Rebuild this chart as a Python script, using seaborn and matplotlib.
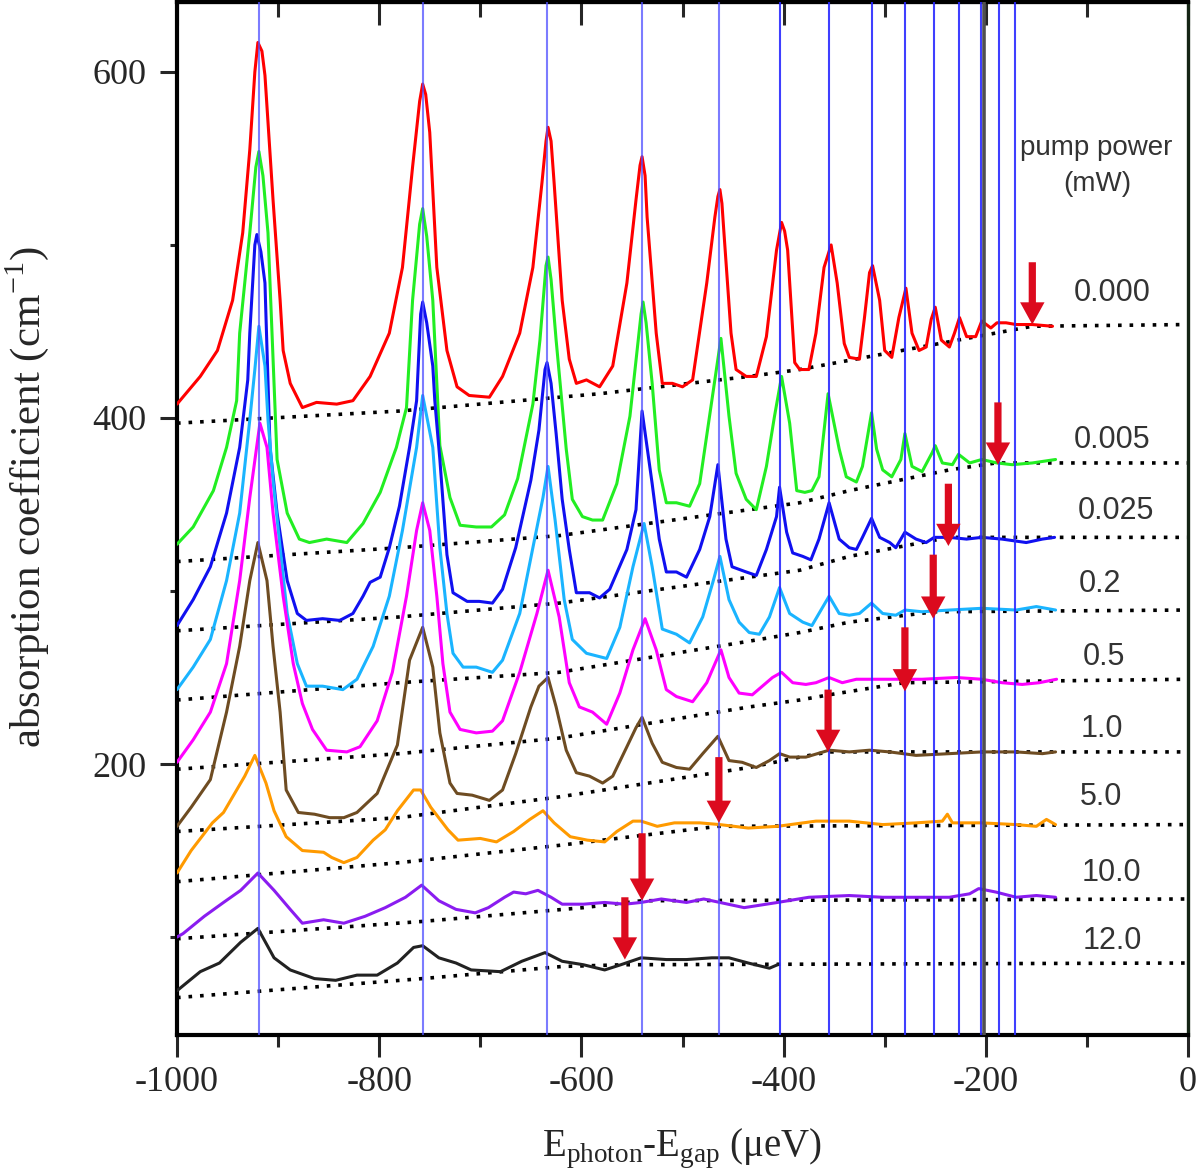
import numpy as np
import pandas as pd
import matplotlib
matplotlib.use('Agg')
import matplotlib.pyplot as plt
import seaborn as sns
from matplotlib.ticker import MultipleLocator, FixedLocator, NullFormatter

# exciton line positions (blue verticals), ueV
peak_lines = [-919, -757, -634, -540, -464, -404, -355, -313, -280, -251, -227, -205, -187, -171]
gap_line = -202

power_labels = ['0.000', '0.005', '0.025', '0.2', '0.5', '1.0', '5.0', '10.0', '12.0']
colors = ['#ff0000', '#22ee22', '#1010f0', '#1ab4ff', '#ff00ff', '#6e4c22', '#ff9a00', '#8a1cf0', '#222222']

# spectra (x in ueV, y in cm^-1)
red = [(-1000,408),(-977,424),(-960,439),(-945,468),(-935,507),(-928,555),(-923,600),(-920,617),(-916,612),(-913,598),(-905,526),(-898,468),(-895,439),(-888,420),(-876,406),(-862,409),(-842,408),(-826,410),(-809,424),(-790,449),(-777,487),(-767,545),(-760,583),(-757,593),(-754,587),(-750,565),(-743,487),(-733,439),(-723,418),(-711,413),(-691,412),(-678,424),(-661,449),(-648,487),(-639,536),(-635,560),(-633,568),(-630,560),(-627,536),(-619,468),(-612,434),(-605,420),(-595,422),(-582,418),(-569,430),(-555,478),(-546,526),(-542,546),(-540,551),(-537,540),(-535,516),(-526,449),(-520,420),(-510,420),(-500,418),(-490,422),(-476,478),(-468,516),(-465,528),(-463,532),(-461,524),(-459,507),(-452,449),(-447,428),(-437,424),(-427,424),(-417,447),(-407,497),(-402,513),(-399,508),(-396,497),(-389,432),(-384,428),(-375,428),(-368,449),(-360,487),(-353,500),(-347,478),(-340,443),(-335,435),(-325,434),(-320,458),(-315,484),(-312,488),(-305,468),(-300,439),(-293,435),(-286,458),(-279,475),(-273,449),(-266,439),(-259,441),(-254,457),(-250,464),(-244,445),(-236,441),(-231,449),(-226,458),(-219,447),(-210,447),(-204,456),(-195,452),(-189,455),(-180,455),(-170,454),(-154,454),(-134,453)]
green = [(-1000,327),(-984,337),(-964,358),(-951,383),(-941,410),(-938,449),(-928,507),(-922,545),(-919,554),(-915,540),(-910,507),(-901,376),(-891,345),(-879,330),(-869,328),(-852,330),(-832,328),(-816,339),(-799,357),(-783,383),(-773,406),(-767,468),(-760,512),(-757,521),(-753,505),(-747,468),(-740,384),(-730,354),(-720,338),(-704,337),(-689,337),(-676,344),(-663,365),(-648,408),(-641,445),(-635,488),(-633,493),(-630,480),(-625,445),(-615,382),(-609,353),(-599,343),(-589,341),(-579,341),(-565,362),(-552,401),(-541,460),(-539,467),(-536,455),(-530,420),(-523,370),(-516,351),(-506,351),(-493,349),(-483,362),(-471,410),(-462,446),(-454,401),(-447,368),(-437,353),(-427,347),(-417,372),(-409,401),(-402,424),(-394,397),(-387,358),(-379,357),(-372,358),(-365,366),(-356,414),(-345,382),(-338,366),(-328,363),(-322,372),(-313,403),(-308,382),(-302,370),(-293,366),(-284,376),(-280,391),(-273,372),(-263,369),(-253,380),(-250,384),(-243,374),(-233,373),(-227,379),(-216,374),(-204,376),(-189,374),(-174,373),(-154,374),(-131,376)]
blue = [(-1000,280),(-984,295),(-967,314),(-951,345),(-938,383),(-930,422),(-928,449),(-923,500),(-921,506),(-917,496),(-913,478),(-908,383),(-901,345),(-891,306),(-881,287),(-872,283),(-856,284),(-839,283),(-826,287),(-816,297),(-809,305),(-799,308),(-790,325),(-780,349),(-770,383),(-763,410),(-759,460),(-757,467),(-753,455),(-747,430),(-745,410),(-740,376),(-733,321),(-727,299),(-713,294),(-701,294),(-688,293),(-678,301),(-665,325),(-650,364),(-642,393),(-636,428),(-634,432),(-630,420),(-625,391),(-619,353),(-612,324),(-605,299),(-592,299),(-582,296),(-572,301),(-555,324),(-546,347),(-540,404),(-530,362),(-523,330),(-516,311),(-506,311),(-496,308),(-483,324),(-473,343),(-465,373),(-457,330),(-451,314),(-437,311),(-427,309),(-417,324),(-407,343),(-404,360),(-397,334),(-391,322),(-381,320),(-373,318),(-365,330),(-355,351),(-345,330),(-335,325),(-328,324),(-322,331),(-313,342),(-305,331),(-295,328),(-289,325),(-280,334),(-269,330),(-259,328),(-251,331),(-236,331),(-219,330),(-204,331),(-184,330),(-160,328),(-144,330),(-132,331)]
cyan = [(-1000,243),(-984,256),(-967,272),(-951,306),(-938,345),(-928,399),(-923,428),(-919,453),(-913,430),(-910,399),(-905,364),(-898,325),(-891,287),(-881,258),(-872,245),(-856,245),(-836,243),(-822,249),(-806,268),(-790,297),(-777,335),(-763,383),(-757,413),(-747,383),(-740,325),(-733,287),(-727,264),(-717,256),(-704,256),(-688,253),(-678,260),(-661,287),(-648,325),(-638,354),(-633,372),(-626,341),(-617,295),(-609,272),(-595,264),(-575,261),(-562,279),(-549,314),(-538,339),(-530,314),(-520,278),(-506,275),(-493,270),(-480,285),(-470,305),(-463,320),(-454,295),(-444,282),(-434,276),(-424,275),(-414,285),(-404,302),(-394,287),(-381,282),(-372,280),(-363,289),(-355,297),(-345,287),(-335,286),(-325,287),(-313,293),(-302,287),(-289,286),(-280,289),(-263,288),(-236,289),(-204,290),(-170,289),(-150,291),(-131,289)]
magenta = [(-1000,201),(-984,214),(-967,230),(-951,258),(-938,306),(-928,354),(-918,397),(-911,383),(-905,345),(-895,297),(-885,258),(-876,235),(-866,220),(-852,208),(-832,207),(-819,210),(-802,225),(-787,253),(-773,297),(-763,335),(-757,351),(-750,335),(-743,297),(-737,258),(-730,230),(-720,220),(-704,218),(-688,219),(-678,225),(-661,253),(-644,287),(-633,312),(-622,285),(-612,247),(-602,233),(-589,230),(-575,223),(-562,241),(-549,266),(-537,284),(-526,266),(-516,243),(-506,239),(-490,236),(-476,247),(-462,266),(-454,250),(-444,241),(-431,240),(-421,245),(-411,250),(-402,253),(-391,247),(-378,246),(-368,247),(-355,250),(-342,247),(-328,249),(-308,249),(-286,249),(-263,249),(-229,250),(-204,249),(-184,247),(-164,246),(-147,247),(-130,249)]
brown = [(-1000,164),(-986,175),(-967,191),(-951,230),(-938,268),(-928,306),(-920,328),(-911,306),(-905,268),(-898,230),(-892,185),(-880,172),(-864,171),(-849,169),(-835,169),(-822,172),(-802,183),(-782,211),(-770,260),(-757,279),(-747,256),(-740,218),(-730,189),(-723,183),(-708,182),(-691,179),(-678,185),(-665,206),(-650,233),(-642,245),(-633,250),(-625,233),(-615,208),(-605,195),(-592,193),(-579,189),(-569,193),(-555,210),(-546,221),(-540,227),(-530,212),(-520,201),(-506,198),(-493,197),(-480,206),(-465,216),(-454,202),(-441,201),(-427,198),(-414,202),(-404,206),(-394,204),(-378,204),(-355,208),(-335,207),(-315,208),(-295,207),(-269,205),(-236,206),(-204,207),(-170,207),(-144,206),(-131,207)]
orange = [(-1000,137),(-986,150),(-965,166),(-954,172),(-945,181),(-933,193),(-923,205),(-912,189),(-904,173),(-892,158),(-876,150),(-855,149),(-847,146),(-835,143),(-822,146),(-806,156),(-794,162),(-782,173),(-766,185),(-759,185),(-749,175),(-732,162),(-722,156),(-700,157),(-684,155),(-667,161),(-651,168),(-638,173),(-627,166),(-611,158),(-594,156),(-577,155),(-565,161),(-549,167),(-541,167),(-525,164),(-508,166),(-483,166),(-463,165),(-435,163),(-406,164),(-368,167),(-335,167),(-302,165),(-269,166),(-243,167),(-238,171),(-233,166),(-204,166),(-170,165),(-150,164),(-140,168),(-131,165)]
purple = [(-1000,100),(-994,102),(-973,112),(-954,120),(-937,127),(-920,137),(-904,127),(-888,116),(-876,108),(-855,110),(-835,108),(-814,112),(-794,117),(-774,123),(-758,130),(-741,121),(-724,116),(-705,114),(-692,117),(-676,123),(-667,126),(-655,125),(-643,127),(-630,123),(-619,119),(-598,119),(-577,120),(-557,119),(-541,120),(-521,122),(-496,120),(-479,122),(-463,120),(-439,117),(-406,120),(-375,123),(-335,124),(-302,123),(-269,123),(-236,123),(-216,125),(-207,128),(-190,126),(-170,123),(-150,124),(-131,123)]
black = [(-1000,69),(-977,80),(-958,85),(-937,97),(-920,105),(-904,88),(-888,81),(-864,76),(-843,75),(-822,78),(-802,78),(-782,85),(-766,94),(-757,95),(-741,88),(-724,85),(-709,81),(-680,80),(-659,86),(-636,91),(-619,86),(-598,84),(-577,81),(-561,84),(-541,88),(-516,87),(-496,87),(-471,88),(-454,88),(-435,85),(-414,82),(-406,84)]

# dotted baselines
base_red = [(-1000,397),(-780,404),(-582,414),(-434,424),(-384,428),(-154,453),(0,454)]
base_green = [(-1000,317),(-780,325),(-622,332),(-434,347),(-384,351),(-335,358),(-236,370),(-190,374),(0,374)]
base_blue = [(-1000,277),(-780,285),(-622,293),(-434,308),(-384,312),(-335,320),(-236,331),(0,331)]
base_cyan = [(-1000,237),(-780,247),(-622,253),(-434,271),(-384,276),(-335,282),(-251,288),(0,289)]
base_magenta = [(-1000,197),(-780,206),(-622,215),(-434,233),(-384,237),(-355,240),(-281,247),(0,249)]
base_brown = [(-1000,161),(-780,169),(-622,181),(-434,198),(-384,204),(-355,207),(0,207)]
base_orange = [(-1000,132),(-780,143),(-622,153),(-465,164),(0,165)]
base_purple = [(-1000,99),(-758,109),(-598,117),(-540,121),(0,122)]
base_black = [(-1000,65),(-757,76),(-619,83),(-558,84),(0,85)]

# red arrows marking the onset of the flat part
arrow_x = [-154, -188, -237, -252, -280, -356, -464, -540, -557]
arrow_top = [490, 409, 362, 321, 279, 243, 204, 160, 123]
arrow_tip = [454, 373, 326, 284, 242, 207, 166, 121, 87]

spectra = [red, green, blue, cyan, magenta, brown, orange, purple, black]
baselines = [base_red, base_green, base_blue, base_cyan, base_magenta,
             base_brown, base_orange, base_purple, base_black]

rows = []
for lab, pts in zip(power_labels, spectra):
    for x, y in pts:
        rows.append((lab, x, y))
df = pd.DataFrame(rows, columns=['power', 'E', 'alpha'])

brows = []
for lab, pts in zip(power_labels, baselines):
    for x, y in pts:
        brows.append((lab, x, y))
bdf = pd.DataFrame(brows, columns=['power', 'E', 'alpha'])

sns.set_style('ticks')
plt.rcParams['font.family'] = ['Liberation Serif', 'DejaVu Serif']
plt.rcParams['mathtext.fontset'] = 'custom'
plt.rcParams['mathtext.rm'] = 'Liberation Serif'
plt.rcParams['axes.unicode_minus'] = False

fig = plt.figure(figsize=(12, 11.76), dpi=100)
ax = fig.add_axes([0.1475, 0.1199, 0.8425, 0.8784])

sns.lineplot(data=bdf, x='E', y='alpha', units='power', estimator=None, sort=False,
             color='black', lw=2.6, linestyle=(0, (1, 2.2)), ax=ax, zorder=2)
sns.lineplot(data=df, x='E', y='alpha', hue='power', hue_order=power_labels,
             palette=colors, estimator=None, sort=False, lw=2.2, legend=False,
             ax=ax, zorder=3)

ax.axvline(gap_line, color='#505050', lw=2.6, zorder=4)
for i, xv in enumerate(peak_lines):
    # the first few lines render lighter in the original
    ax.axvline(xv, color='#5050ff' if i < 5 else '#2a2aff', lw=1.5,
               alpha=0.75 if i < 5 else 0.9, zorder=5)

for xa, yt, yh in zip(arrow_x, arrow_top, arrow_tip):
    ax.annotate('', xy=(xa, yh), xytext=(xa, yt),
                arrowprops=dict(arrowstyle='simple,head_width=0.88,head_length=0.8,tail_width=0.26',
                                mutation_scale=20, color='#dc0a1e', lw=0,
                                shrinkA=0, shrinkB=0), zorder=6)

label_x = [-75, -75, -71, -87, -83, -85, -86, -76, -75]
label_y = [472, 387, 346, 304, 262, 220, 181, 137, 98]
for lab, lx, ly in zip(power_labels, label_x, label_y):
    ax.text(lx, ly, lab, ha='center', va='center', fontsize=22,
            family='Liberation Sans', color='#333333')
ax.text(-91, 556, 'pump power', ha='center', va='center', fontsize=20,
        family='Liberation Sans', color='#333333')
ax.text(-90, 535, '(mW)', ha='center', va='center', fontsize=20,
        family='Liberation Sans', color='#333333')

ax.set_xlim(-1000, 0)
ax.set_ylim(43.4, 640.4)
ax.xaxis.set_major_locator(MultipleLocator(200))
ax.xaxis.set_minor_locator(MultipleLocator(100))
ax.yaxis.set_major_locator(FixedLocator([200, 400, 600]))
ax.yaxis.set_minor_locator(FixedLocator([100, 300, 500]))
ax.tick_params(axis='x', which='major', direction='out', length=16, width=2.2,
               labelsize=26, pad=6)
ax.tick_params(axis='x', which='minor', direction='out', length=8.6, width=2.2)
ax.tick_params(axis='y', which='major', direction='out', length=12, width=2.2,
               labelsize=26, pad=10)
ax.tick_params(axis='y', which='minor', direction='out', length=5, width=2.2)
ax.tick_params(top=False, right=False)

top = ax.secondary_xaxis('top')
top.xaxis.set_major_locator(MultipleLocator(200))
top.xaxis.set_minor_locator(MultipleLocator(100))
top.xaxis.set_major_formatter(NullFormatter())
top.tick_params(which='major', direction='in', length=16.5, width=2.2)
top.tick_params(which='minor', direction='in', length=10.5, width=2.2)
top.spines['top'].set_linewidth(3)

for s in ['left', 'bottom', 'top']:
    ax.spines[s].set_linewidth(3)
    ax.spines[s].set_color('black')
ax.spines['right'].set_linewidth(2.4)
ax.spines['right'].set_color('#142414')

ax.set_xlabel('E$_{\\mathregular{photon}}$-E$_{\\mathregular{gap}}$ (μeV)', fontsize=28, labelpad=20)
ax.set_ylabel('absorption coefficient (cm$^{\\mathregular{-1}}$)', fontsize=31)
ax.yaxis.set_label_coords(-0.125, 0.521)

fig.savefig('out.png', dpi=100)
